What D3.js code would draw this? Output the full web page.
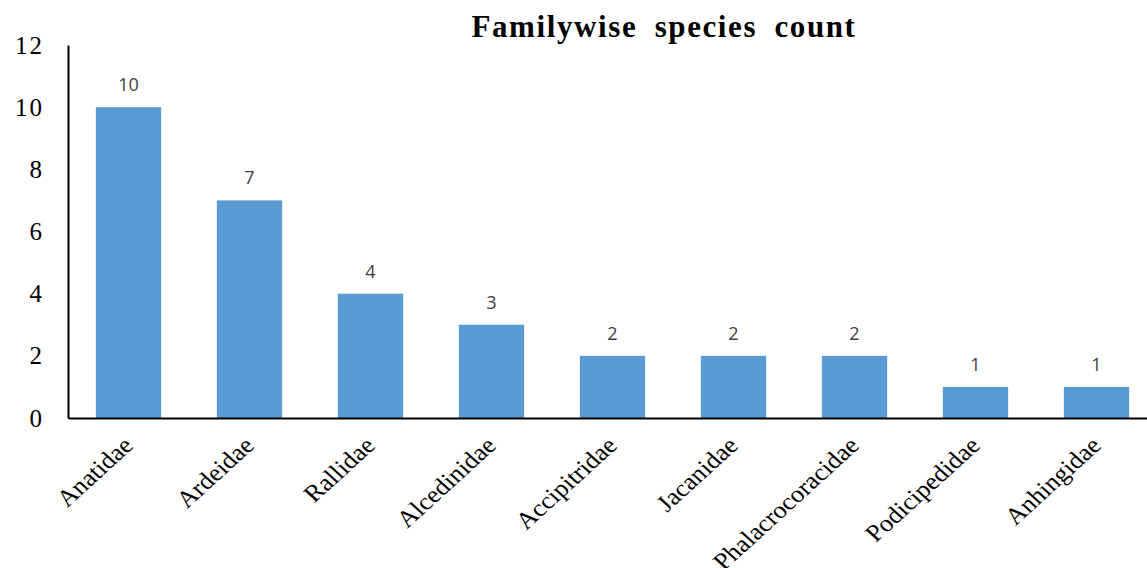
<!DOCTYPE html>
<html>
<head>
<meta charset="utf-8">
<script src="https://cdn.jsdelivr.net/npm/d3@7"></script>
<style>
  body { margin: 0; background: #fff; }
  svg { display: block; }
</style>
</head>
<body>
<div id="chart"></div>
<script>
var families = ["Anatidae", "Ardeidae", "Rallidae", "Alcedinidae", "Accipitridae",
    "Jacanidae", "Phalacrocoracidae", "Podicipedidae", "Anhingidae"];
var speciesCount = [10, 7, 4, 3, 2, 2, 2, 1, 1];
var yTicks = [0, 2, 4, 6, 8, 10, 12];

var svgWidth = 1147;
var svgHeight = 568;

var svg = d3.select("#chart")
    .append("svg")
    .attr("width", svgWidth)
    .attr("height", svgHeight);

var data = families.map((f, i) => ({family: f, count: speciesCount[i]}));

var xScale = d3.scaleBand()
    .domain(families)
    .range([68, 1157])
    .paddingInner(0.46)
    .paddingOuter(0.23);

var yScale = d3.scaleLinear()
    .domain([0, 12])
    .range([418, 45]);

// bars
svg.selectAll("rect.bar")
    .data(data)
    .enter()
    .append("rect")
    .attr("class", "bar")
    .attr("x", d => xScale(d.family))
    .attr("y", d => yScale(d.count))
    .attr("width", xScale.bandwidth())
    .attr("height", d => yScale(0) - yScale(d.count))
    .attr("fill", "#5b9bd5");

// value labels
svg.selectAll("text.val")
    .data(data)
    .enter()
    .append("text")
    .attr("class", "val")
    .attr("x", d => xScale(d.family) + xScale.bandwidth() / 2)
    .attr("y", d => yScale(d.count) - 16)
    .attr("text-anchor", "middle")
    .attr("font-family", "'Open Sans', sans-serif")
    .attr("font-size", "18px")
    .attr("fill", "#404040")
    .text(d => d.count);

// y axis
var leftAxis = d3.axisLeft(yScale).tickValues(yTicks).tickSize(0).tickPadding(24);
var yAxis = svg.append("g")
    .attr("transform", "translate(68, 0)")
    .call(leftAxis);
yAxis.select(".domain").attr("stroke", "#000").attr("stroke-width", 2);
yAxis.selectAll("text")
    .attr("font-family", "'Liberation Serif', 'Times New Roman', serif")
    .attr("font-size", "25px")
    .attr("letter-spacing", "2px")
    .attr("fill", "#000");

// x axis
var bottomAxis = d3.axisBottom(xScale).tickSize(0).tickSizeOuter(0);
var xAxis = svg.append("g")
    .attr("transform", "translate(0, 418)")
    .call(bottomAxis);
xAxis.select(".domain").attr("stroke", "#000").attr("stroke-width", 2);
xAxis.selectAll("text")
    .attr("font-family", "'Liberation Serif', 'Times New Roman', serif")
    .attr("font-size", "24px")
    .attr("fill", "#000")
    .attr("text-anchor", "end")
    .attr("y", 0)
    .attr("dy", 0)
    .attr("transform", "translate(6, 29) scale(1.1, 1) rotate(-45)");

// title
svg.append("text")
    .attr("x", 664)
    .attr("y", 37)
    .attr("text-anchor", "middle")
    .attr("font-family", "'Liberation Serif', 'Times New Roman', serif")
    .attr("font-weight", "bold")
    .attr("font-size", "31px")
    .attr("letter-spacing", "1.6px")
    .attr("word-spacing", "8px")
    .text("Familywise species count");
</script>
</body>
</html>
